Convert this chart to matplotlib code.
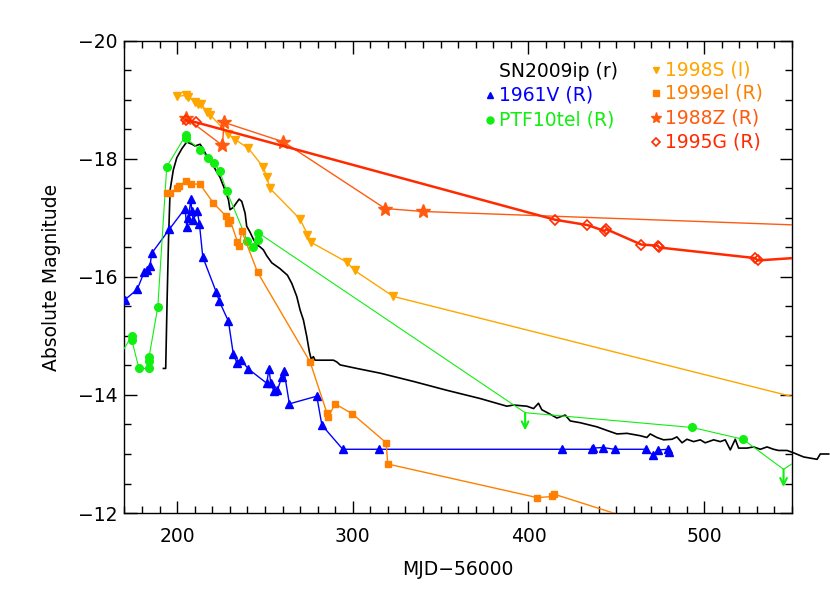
import matplotlib
matplotlib.use("Agg")
import matplotlib.pyplot as plt
from matplotlib.ticker import MultipleLocator

# SN2009ip (r) - line only
ip_t = [192.2, 193.5, 194.3, 195.1, 196.0, 197.8, 199.8, 202.6, 205.5, 206.8, 208.5, 210.2,
        213.1, 214.8, 216.9, 219.7, 222.6, 224.4, 227.3, 229.2, 230.1, 232.0, 233.6, 235.3,
        236.8, 238.7, 239.6, 241.5, 243.4, 245.3, 247.2, 249.1, 251.0, 253.9, 258.6, 262.8,
        265.3, 268.1, 270.0, 271.9, 273.8, 275.3, 276.3, 277.6, 278.5, 289.0, 290.9, 292.8,
        302.3, 315.6, 334.5, 353.5, 372.5, 387.7, 391.5, 399.1, 402.9, 405.7, 407.6, 411.4,
        416.2, 420.9, 423.8, 429.5, 439.0, 446.5, 450.4, 456.1, 463.6, 467.4, 469.3, 473.1,
        476.9, 481.7, 484.5, 487.4, 490.2, 494.0, 497.8, 500.6, 505.4, 509.2, 512.0, 514.9,
        517.7, 519.6, 524.4, 528.1, 532.0, 535.8, 539.5, 542.4, 547.2, 550.9, 556.6, 564.3,
        566.1, 570.9]
ip_m = [-14.45, -14.45, -15.61, -16.63, -17.47, -17.81, -18.02, -18.17, -18.29, -18.27, -18.25, -18.22,
        -18.25, -18.17, -18.05, -17.93, -17.78, -17.69, -17.47, -17.31, -17.14, -17.18, -17.25, -17.32,
        -17.28, -17.08, -16.86, -16.76, -16.64, -16.55, -16.51, -16.46, -16.36, -16.24, -16.14, -16.03,
        -15.89, -15.67, -15.44, -15.27, -14.99, -14.73, -14.61, -14.65, -14.59, -14.59, -14.56, -14.51,
        -14.45, -14.37, -14.23, -14.08, -13.94, -13.81, -13.83, -13.81, -13.77, -13.86, -13.75, -13.69,
        -13.61, -13.66, -13.56, -13.53, -13.46, -13.38, -13.34, -13.35, -13.31, -13.28, -13.34, -13.28,
        -13.24, -13.25, -13.29, -13.19, -13.25, -13.21, -13.24, -13.19, -13.24, -13.21, -13.24, -13.07,
        -13.25, -13.10, -13.10, -13.12, -13.08, -13.12, -13.08, -13.06, -13.06, -13.02, -12.95, -12.91,
        -13.00, -13.00]

# 1961V (R)
v61_t = [170.1, 177.3, 181.2, 182.8, 184.6, 185.5, 195.6, 204.5, 205.5, 206.4, 207.9, 208.3,
         209.2, 211.5, 212.7, 214.6, 222.2, 224.0, 229.2, 232.0, 234.0, 236.2, 240.6, 251.0,
         252.3, 253.3, 255.2, 257.1, 259.6, 260.9, 263.9, 279.5, 282.4, 294.3, 315.2, 419.0,
         436.1, 437.0, 442.2, 449.0, 466.9, 470.8, 474.0, 479.7, 480.1]
v61_m = [-15.61, -15.79, -16.08, -16.12, -16.19, -16.40, -16.81, -17.16, -16.85, -17.00, -17.32, -17.11,
         -16.97, -17.11, -16.90, -16.34, -15.75, -15.59, -15.25, -14.69, -14.55, -14.60, -14.44, -14.20,
         -14.44, -14.20, -14.06, -14.08, -14.31, -14.40, -13.85, -13.98, -13.49, -13.08, -13.08, -13.08,
         -13.08, -13.10, -13.11, -13.08, -13.08, -12.98, -13.07, -13.08, -13.04]

# PTF10tel (R), lim = upper limit
tel_t = [166.0, 174.2, 174.2, 178.3, 184.0, 184.0, 184.0, 189.0, 194.1, 205.1, 205.1, 213.1, 217.8,
         221.1, 224.3, 228.3, 240.0, 243.1, 246.3, 246.1, 398.1, 493.1, 522.1, 545.2, 556.0]
tel_m = [-14.60, -15.00, -14.93, -14.45, -14.45, -14.58, -14.64, -15.49, -17.87, -18.41, -18.35, -18.16,
         -18.01, -17.93, -17.79, -17.45, -16.61, -16.51, -16.62, -16.75, -13.70, -13.45, -13.25, -12.74,
         -12.95]
tel_lim = [0, 0, 0, 0, 0, 0, 0, 0, 0, 0, 0, 0, 0, 0, 0, 0, 0, 0, 0, 0, 1, 0, 0, 1, 0]

# 1998S (I)
s98_t = [200.0, 205.1, 206.4, 210.2, 212.1, 213.6, 216.9, 218.7, 229.2, 233.0, 240.6, 249.1,
         251.0, 252.9, 270.0, 274.2, 276.1, 296.7, 301.0, 323.1, 600.0]
s98_m = [-19.06, -19.08, -19.05, -18.97, -18.93, -18.94, -18.80, -18.75, -18.42, -18.33, -18.18, -17.86,
         -17.69, -17.50, -16.98, -16.72, -16.59, -16.25, -16.11, -15.67, -13.60]

# 1999el (R)
el_t = [194.1, 196.0, 200.1, 201.3, 204.9, 207.8, 213.1, 220.7, 227.9, 228.7, 230.1, 234.3,
        235.4, 236.8, 245.8, 275.7, 285.2, 286.1, 289.9, 299.8, 319.0, 319.9, 405.1, 413.3,
        414.5, 480.0]
el_m = [-17.42, -17.43, -17.50, -17.54, -17.63, -17.58, -17.57, -17.25, -17.03, -16.92, -16.97, -16.60,
        -16.53, -16.78, -16.08, -14.56, -13.70, -13.63, -13.85, -13.68, -13.19, -12.83, -12.26, -12.28,
        -12.32, -11.70]

# 1988Z (R)
z88_t = [204.9, 225.8, 226.7, 260.5, 318.4, 340.2, 600.0]
z88_m = [-18.70, -18.23, -18.62, -18.29, -17.16, -17.11, -16.83]

# 1995G (R)
g95_t = [204.9, 210.9, 415.2, 433.6, 443.3, 444.3, 464.2, 473.7, 474.3, 529.1, 530.4, 600.0]
g95_m = [-18.66, -18.62, -16.97, -16.88, -16.78, -16.81, -16.55, -16.53, -16.50, -16.32, -16.28, -16.42]

c_blue = "#0000ff"
c_green = "#11ee11"
c_98s = "#ffa500"
c_99el = "#ff8000"
c_88z = "#ff5a10"
c_95g = "#ff2a00"

plt.rcParams["font.family"] = ["DejaVu Sans"]

fig = plt.figure(figsize=(8.3, 5.93), dpi=100)
ax = fig.add_axes([0.1499, 0.1349, 0.8043, 0.796])

ax.plot(ip_t, ip_m, color="black", lw=1.2, clip_on=False, zorder=3)

ax.plot(v61_t, v61_m, color=c_blue, lw=1.0, marker="^", ms=6, zorder=4)

ax.plot(tel_t, tel_m, color=c_green, lw=0.8, zorder=4)
det_t = [t for t, l in zip(tel_t, tel_lim) if l == 0]
det_m = [m for m, l in zip(tel_m, tel_lim) if l == 0]
ax.plot(det_t, det_m, ls="none", color=c_green, marker="o", ms=5.5, zorder=4)
for t, m, l in zip(tel_t, tel_m, tel_lim):
    if l:
        ax.annotate("", xy=(t, m + 0.3), xytext=(t, m),
                    arrowprops=dict(arrowstyle="->", color=c_green, lw=1.5,
                                    mutation_scale=12, shrinkA=0, shrinkB=0))

ax.plot(s98_t, s98_m, color=c_98s, lw=1.0, marker="v", ms=6, zorder=4)
ax.plot(el_t, el_m, color=c_99el, lw=1.0, marker="s", ms=5, zorder=4)
ax.plot(z88_t, z88_m, color=c_88z, lw=1.0, marker="*", ms=10, zorder=5)
ax.plot(g95_t, g95_m, color=c_95g, lw=1.8, marker="D", ms=5, mfc="none", mew=1.2, zorder=5)

ax.set_xlim(170, 550)
ax.set_ylim(-12, -20)
ax.xaxis.set_major_locator(MultipleLocator(100))
ax.xaxis.set_minor_locator(MultipleLocator(10))
ax.yaxis.set_major_locator(MultipleLocator(2))
ax.yaxis.set_minor_locator(MultipleLocator(0.5))
ax.tick_params(which="both", direction="in", top=True, right=True, labelsize=13.5, width=1.0)
ax.tick_params(which="major", length=9)
ax.tick_params(which="minor", length=5)
ax.tick_params(axis="x", which="major", pad=10)
ax.tick_params(axis="y", which="major", pad=5)
for s in ax.spines.values():
    s.set_linewidth(1.0)

ax.set_xlabel("MJD\u221256000", fontsize=13.5, labelpad=10)
ax.set_ylabel("Absolute Magnitude", fontsize=13.5, labelpad=12)

# legend, drawn as text like the original
fs = 13.5
ax.text(0.561, 0.935, "SN2009ip (r)", color="black", fontsize=fs, va="center", transform=ax.transAxes)
ax.plot([0.548], [0.886], marker="^", ms=5, color=c_blue, transform=ax.transAxes, clip_on=False)
ax.text(0.561, 0.886, "1961V (R)", color=c_blue, fontsize=fs, va="center", transform=ax.transAxes)
ax.plot([0.548], [0.833], marker="o", ms=5, color=c_green, transform=ax.transAxes, clip_on=False)
ax.text(0.561, 0.833, "PTF10tel (R)", color=c_green, fontsize=fs, va="center", transform=ax.transAxes)

ax.plot([0.797], [0.939], marker="v", ms=5, color=c_98s, transform=ax.transAxes, clip_on=False)
ax.text(0.810, 0.939, "1998S (I)", color=c_98s, fontsize=fs, va="center", transform=ax.transAxes)
ax.plot([0.797], [0.889], marker="s", ms=4.5, color=c_99el, transform=ax.transAxes, clip_on=False)
ax.text(0.810, 0.889, "1999el (R)", color=c_99el, fontsize=fs, va="center", transform=ax.transAxes)
ax.plot([0.797], [0.836], marker="*", ms=8, color=c_88z, transform=ax.transAxes, clip_on=False)
ax.text(0.810, 0.836, "1988Z (R)", color=c_88z, fontsize=fs, va="center", transform=ax.transAxes)
ax.plot([0.797], [0.787], marker="D", ms=4.5, mfc="none", mew=1.2, color=c_95g,
        transform=ax.transAxes, clip_on=False)
ax.text(0.810, 0.787, "1995G (R)", color=c_95g, fontsize=fs, va="center", transform=ax.transAxes)

fig.savefig("out.png", dpi=100)
